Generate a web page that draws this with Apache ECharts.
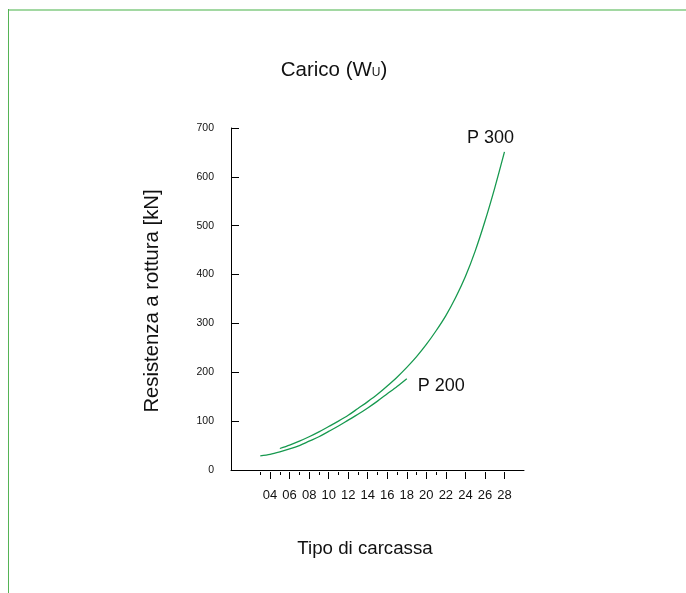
<!DOCTYPE html>
<html>
<head>
<meta charset="utf-8">
<script src="https://cdn.jsdelivr.net/npm/echarts@6/dist/echarts.min.js"></script>
<style>
html,body{margin:0;padding:0;background:#fff;}
#main{width:686px;height:593px;}
</style>
</head>
<body>
<div id="main"></div>
<script>
// ---- data ----
var p300X = [5, 6, 7, 8, 9, 10, 11, 12, 13, 14, 15, 16, 17, 18, 19, 20, 21, 22, 23, 24, 25, 26, 27, 28];
var p300Y = [44, 51, 59, 68, 78, 89, 100, 112, 126, 140, 155, 172, 190, 210, 232, 257, 285, 316, 353, 396, 448, 509, 577, 651];
var p200X = [3, 4, 5, 6, 7, 8, 9, 10, 11, 12, 13, 14, 15, 16, 17, 18];
var p200Y = [29, 32, 37, 43, 50, 59, 68, 79, 90, 102, 114, 127, 141, 156, 171, 187];
var majorTicks = [4, 6, 8, 10, 12, 14, 16, 18, 20, 22, 24, 26, 28];
var minorTicks = [3, 5, 7, 9, 11, 13, 15, 17, 19, 21];
var yTicks = [0, 100, 200, 300, 400, 500, 600, 700];
var seriesNames = ['P 300', 'P 200'];
var titleText = 'Carico (W';
var titleSub = 'U';
var xName = 'Tipo di carcassa';
var yName = 'Resistenza a rottura [kN]';

function pairs(xs, ys) { return xs.map(function (x, i) { return [x, ys[i]]; }); }

var FONT = "'Liberation Sans', Arial, Helvetica, sans-serif";
var GREEN = '#17994f';
var chart = echarts.init(document.getElementById('main'), null, {renderer: 'canvas'});

var baseX = {type: 'value', position: 'bottom', min: 0, max: 30, splitLine: {show: false}, gridIndex: 0};

chart.setOption({
  backgroundColor: '#fff',
  animation: false,
  grid: {left: 231, top: 128, right: 162, bottom: 123},
  xAxis: [
    Object.assign({}, baseX, {
      axisLine: {show: true, lineStyle: {color: '#000', width: 1}},
      axisTick: {show: false}, axisLabel: {show: false}
    }),
    Object.assign({}, baseX, {
      offset: 2,
      axisLine: {show: false},
      axisTick: {show: true, length: 7, customValues: majorTicks, lineStyle: {color: '#000', width: 1}},
      axisLabel: {show: true, customValues: majorTicks, margin: 17, fontSize: 13, fontFamily: FONT, color: '#111',
        formatter: function (v) { return (v < 10 ? '0' : '') + v; }}
    }),
    Object.assign({}, baseX, {
      offset: 2,
      axisLine: {show: false},
      axisTick: {show: true, length: 3, customValues: minorTicks, lineStyle: {color: '#000', width: 1}},
      axisLabel: {show: false}
    })
  ],
  yAxis: {
    type: 'value', min: yTicks[0], max: yTicks[yTicks.length - 1], interval: 100,
    splitLine: {show: false},
    axisLine: {show: true, lineStyle: {color: '#000', width: 1}},
    axisTick: {show: true, inside: true, length: 8, lineStyle: {color: '#000', width: 1}},
    axisLabel: {margin: 17, fontSize: 10.5, fontFamily: FONT, color: '#111'}
  },
  series: [
    {
      name: seriesNames[0], type: 'line', smooth: 0.3, showSymbol: false, xAxisIndex: 0,
      data: pairs(p300X, p300Y),
      lineStyle: {color: GREEN, width: 1.3},
      endLabel: {show: true, formatter: seriesNames[0], fontSize: 18, fontFamily: FONT, color: '#111',
        align: 'center', verticalAlign: 'middle', distance: 0, offset: [-14, -14]}
    },
    {
      name: seriesNames[1], type: 'line', smooth: 0.3, showSymbol: false, xAxisIndex: 0,
      data: pairs(p200X, p200Y),
      lineStyle: {color: GREEN, width: 1.3},
      endLabel: {show: true, formatter: seriesNames[1], fontSize: 18, fontFamily: FONT, color: '#111',
        distance: 5, offset: [6, 7]}
    }
  ],
  graphic: [
    {type: 'line', silent: true, shape: {x1: 8, y1: 10, x2: 686, y2: 10}, style: {stroke: '#a2d8a2', lineWidth: 2}},
    {type: 'line', silent: true, shape: {x1: 8.5, y1: 9, x2: 8.5, y2: 593}, style: {stroke: '#55b355', lineWidth: 1}},
    {type: 'text', x: 334, y: 70, style: {
      text: '{a|' + titleText + '}{b|' + titleSub + '}{a|)}',
      textAlign: 'center', textVerticalAlign: 'middle',
      rich: {
        a: {fontSize: 20.5, fontFamily: FONT, fill: '#111'},
        b: {fontSize: 12, fontFamily: FONT, fill: '#111', padding: [5, 0, 0, 0]}
      }
    }},
    {type: 'text', x: 365, y: 549, style: {text: xName, fontSize: 18.7, fontFamily: FONT, fill: '#111',
      textAlign: 'center', textVerticalAlign: 'middle'}},
    {type: 'text', x: 152, y: 301, rotation: Math.PI / 2, style: {text: yName, fontSize: 20.3, fontFamily: FONT, fill: '#111',
      textAlign: 'center', textVerticalAlign: 'middle'}}
  ]
});
</script>
</body>
</html>
